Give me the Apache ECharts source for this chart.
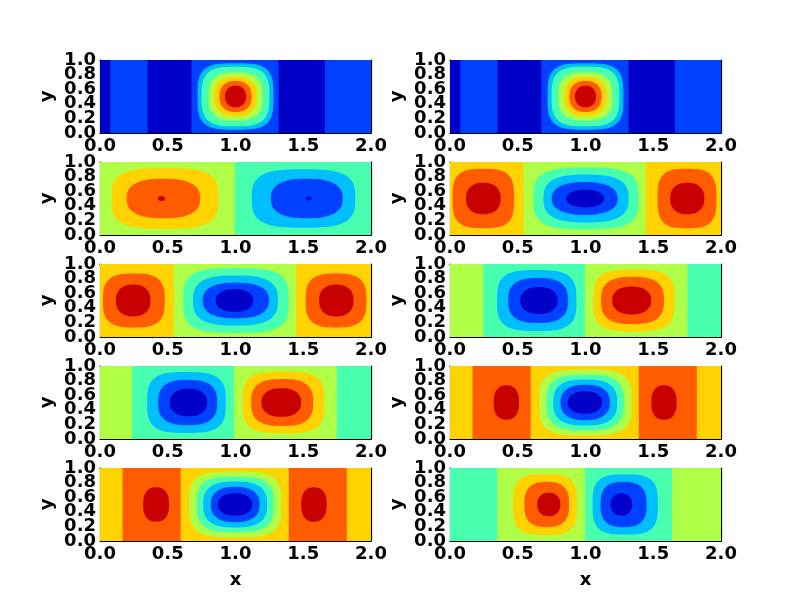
<!DOCTYPE html>
<html>
<head>
<meta charset="utf-8">
<script src="https://cdn.jsdelivr.net/npm/echarts@6/dist/echarts.min.js"></script>
<style>
  html, body { margin: 0; padding: 0; background: #fff; }
  #chart { width: 800px; height: 600px; }
</style>
</head>
<body>
<div id="chart"></div>
<script>
// contour level colours (jet, 8 levels, low -> high)
const jet = ['#0000c8', '#0040ff', '#00bfff', '#48ffaf', '#afff48', '#ffd200', '#ff5c00', '#c80000'];

const xTicks = [0, 0.5, 1, 1.5, 2];
const yTicks = [0, 0.2, 0.4, 0.6, 0.8, 1];

// bands: [x0, x1, level]   blobs: [cx, cy, halfW, halfH, level]  (outer first)
const p1Bands = [[0, 0.08, 0], [0.08, 0.355, 1], [0.355, 0.678, 0], [0.678, 1.322, 1], [1.322, 1.663, 0], [1.663, 2, 1]];
const p1Blobs = [[1, 0.5, 0.28, 0.455, 2], [1, 0.5, 0.25, 0.408, 3], [1, 0.5, 0.2, 0.33, 4], [1, 0.5, 0.158, 0.27, 5], [1, 0.5, 0.119, 0.213, 6], [1, 0.5, 0.078, 0.149, 7]];

const p2Bands = [[0, 0.08, 0], [0.08, 0.355, 1], [0.355, 0.678, 0], [0.678, 1.322, 1], [1.322, 1.663, 0], [1.663, 2, 1]];
const p2Blobs = [[1, 0.5, 0.28, 0.455, 2], [1, 0.5, 0.25, 0.408, 3], [1, 0.5, 0.2, 0.33, 4], [1, 0.5, 0.158, 0.27, 5], [1, 0.5, 0.119, 0.213, 6], [1, 0.5, 0.078, 0.149, 7]];

const p3Bands = [[0, 1, 4], [1, 2, 3]];
const p3Blobs = [[0.48, 0.5, 0.395, 0.415, 5], [0.468, 0.5, 0.271, 0.271, 6], [0.453, 0.5, 0.027, 0.034, 7],
                 [1.502, 0.5, 0.382, 0.4, 2], [1.526, 0.5, 0.265, 0.27, 1], [1.54, 0.5, 0.023, 0.025, 0]];

const p4Bands = [[0, 0.547, 5], [0.547, 1.448, 4], [1.448, 2, 5]];
const p4Blobs = [[0.246, 0.5, 0.227, 0.406, 6], [0.246, 0.5, 0.128, 0.216, 7], [1.749, 0.5, 0.217, 0.406, 6], [1.751, 0.5, 0.126, 0.216, 7],
                 [1.004, 0.5, 0.388, 0.424, 3], [1.004, 0.5, 0.314, 0.328, 2], [0.994, 0.5, 0.243, 0.225, 1], [0.998, 0.5, 0.14, 0.122, 0]];

const p5Bands = [[0, 0.549, 5], [0.549, 1.451, 4], [1.451, 2, 5]];
const p5Blobs = [[0.25, 0.5, 0.228, 0.37, 6], [0.245, 0.5, 0.127, 0.218, 7], [1.742, 0.5, 0.224, 0.37, 6], [1.744, 0.5, 0.127, 0.218, 7],
                 [1.004, 0.5, 0.39, 0.444, 3], [1.0, 0.5, 0.313, 0.343, 2], [1.003, 0.5, 0.245, 0.245, 1], [0.993, 0.5, 0.139, 0.157, 0]];

const p6Bands = [[0, 0.249, 4], [0.249, 1.0, 3], [1.0, 1.756, 4], [1.756, 2, 3]];
const p6Blobs = [[0.64, 0.5, 0.293, 0.417, 2], [0.65, 0.5, 0.22, 0.308, 1], [0.657, 0.5, 0.138, 0.185, 0],
                 [1.357, 0.5, 0.3, 0.424, 5], [1.347, 0.5, 0.232, 0.324, 6], [1.341, 0.5, 0.144, 0.192, 7]];

const p7Bands = [[0, 0.241, 4], [0.241, 0.993, 3], [0.993, 1.751, 4], [1.751, 2, 3]];
const p7Blobs = [[0.638, 0.5, 0.29, 0.417, 2], [0.647, 0.5, 0.218, 0.31, 1], [0.653, 0.5, 0.138, 0.19, 0],
                 [1.355, 0.5, 0.303, 0.424, 5], [1.345, 0.5, 0.229, 0.322, 6], [1.338, 0.5, 0.147, 0.197, 7]];

const p8Bands = [[0, 0.17, 5], [0.17, 0.599, 6], [0.599, 1.397, 5], [1.397, 1.825, 6], [1.825, 2, 5]];
const p8Blobs = [[0.416, 0.5, 0.094, 0.236, 7], [1.579, 0.5, 0.094, 0.236, 7],
                 [0.999, 0.5, 0.341, 0.451, 4], [0.998, 0.5, 0.286, 0.382, 3], [0.998, 0.5, 0.236, 0.315, 2], [0.998, 0.5, 0.182, 0.243, 1], [0.996, 0.5, 0.127, 0.155, 0]];

const p9Bands = [[0, 0.17, 5], [0.17, 0.599, 6], [0.599, 1.397, 5], [1.397, 1.825, 6], [1.825, 2, 5]];
const p9Blobs = [[0.414, 0.5, 0.096, 0.236, 7], [1.579, 0.5, 0.094, 0.236, 7],
                 [0.998, 0.5, 0.34, 0.451, 4], [0.998, 0.5, 0.285, 0.382, 3], [0.998, 0.5, 0.236, 0.315, 2], [0.998, 0.5, 0.18, 0.243, 1], [0.996, 0.5, 0.127, 0.155, 0]];

const p10Bands = [[0, 0.352, 3], [0.352, 1.0, 4], [1.0, 1.643, 3], [1.643, 2, 4]];
const p10Blobs = [[0.702, 0.5, 0.236, 0.417, 5], [0.714, 0.5, 0.165, 0.31, 6], [0.729, 0.5, 0.086, 0.162, 7],
                  [1.293, 0.5, 0.241, 0.412, 2], [1.281, 0.5, 0.17, 0.31, 1], [1.265, 0.5, 0.08, 0.153, 0]];

const panels = [
  [p1Bands, p1Blobs], [p2Bands, p2Blobs],
  [p3Bands, p3Blobs], [p4Bands, p4Blobs],
  [p5Bands, p5Blobs], [p6Bands, p6Blobs],
  [p7Bands, p7Blobs], [p8Bands, p8Blobs],
  [p9Bands, p9Blobs], [p10Bands, p10Blobs]
];

let font = { fontFamily: 'DejaVu Sans', fontWeight: 'bold', fontSize: 18, color: '#000' };

function renderBand(params, api) {
  let a = api.coord([api.value(0), 1]);
  let b = api.coord([api.value(1), 0]);
  // a little overlap so no white seam shows between bands
  return {
    type: 'rect',
    shape: { x: a[0] - 0.5, y: a[1], width: b[0] - a[0] + 1, height: b[1] - a[1] },
    style: { fill: jet[api.value(2)] }
  };
}

// contour ring drawn as a superellipse, rounder the smaller it is
function renderBlob(params, api) {
  let cx = api.value(0), cy = api.value(1), hw = api.value(2), hh = api.value(3);
  let n = 2 + 1.8 * Math.pow(hh / 0.5, 2);
  let pts = [];
  for (let i = 0; i < 96; i++) {
    let t = i / 96 * Math.PI * 2;
    let c = Math.cos(t), s = Math.sin(t);
    let px = cx + hw * Math.sign(c) * Math.pow(Math.abs(c), 2 / n);
    let py = cy + hh * Math.sign(s) * Math.pow(Math.abs(s), 2 / n);
    pts.push(api.coord([px, py]));
  }
  return { type: 'polygon', shape: { points: pts }, style: { fill: jet[api.value(4)] } };
}

let grids = [], xAxes = [], yAxes = [], series = [];

panels.forEach((p, i) => {
  let row = Math.floor(i / 2), col = i % 2;
  grids.push({ left: col ? 450 : 100, top: 60 + row * 102, width: 271, height: 73 });
  let line = { show: true, onZero: false, lineStyle: { color: '#000', width: 1.2 } };
  let tick = { show: true, inside: true, length: 5, lineStyle: { color: '#000', width: 1 } };
  xAxes.push({
    type: 'value', gridIndex: i, min: 0, max: 2, interval: 0.5, position: 'bottom',
    axisLine: line, axisTick: tick, splitLine: { show: false },
    axisLabel: Object.assign({ margin: 4, showMinLabel: true, showMaxLabel: true, formatter: v => v.toFixed(1) }, font),
    name: row === 4 ? 'x' : '', nameLocation: 'middle', nameGap: 30, nameTextStyle: font
  });
  xAxes.push({
    type: 'value', gridIndex: i, min: 0, max: 2, interval: 0.5, position: 'top',
    axisLine: line, axisTick: tick, axisLabel: { show: false }, splitLine: { show: false }
  });
  // value axis the contours sit on (hidden)
  yAxes.push({
    type: 'value', gridIndex: i, min: 0, max: 1, interval: 0.2, show: false
  });
  // visible left axis: category so every crowded label is kept, like the original
  yAxes.push({
    type: 'category', gridIndex: i, position: 'left', boundaryGap: false,
    data: yTicks.map(v => v.toFixed(1)),
    axisLine: line, axisTick: Object.assign({ interval: 0 }, tick), splitLine: { show: false },
    axisLabel: Object.assign({ margin: 4, interval: 0 }, font),
    name: 'y', nameLocation: 'middle', nameRotate: 90, nameGap: 44, nameTextStyle: font
  });
  yAxes.push({
    type: 'value', gridIndex: i, min: 0, max: 1, interval: 0.2, position: 'right',
    axisLine: line, axisTick: tick, axisLabel: { show: false }, splitLine: { show: false }
  });
  series.push({
    type: 'custom', xAxisIndex: i * 2, yAxisIndex: i * 3, clip: true,
    renderItem: renderBand, data: p[0], z: 1
  });
  series.push({
    type: 'custom', xAxisIndex: i * 2, yAxisIndex: i * 3, clip: true,
    renderItem: renderBlob, data: p[1], z: 2
  });
});

let chart = echarts.init(document.getElementById('chart'));
chart.setOption({
  animation: false,
  backgroundColor: '#fff',
  grid: grids,
  xAxis: xAxes,
  yAxis: yAxes,
  series: series
});
</script>
</body>
</html>
